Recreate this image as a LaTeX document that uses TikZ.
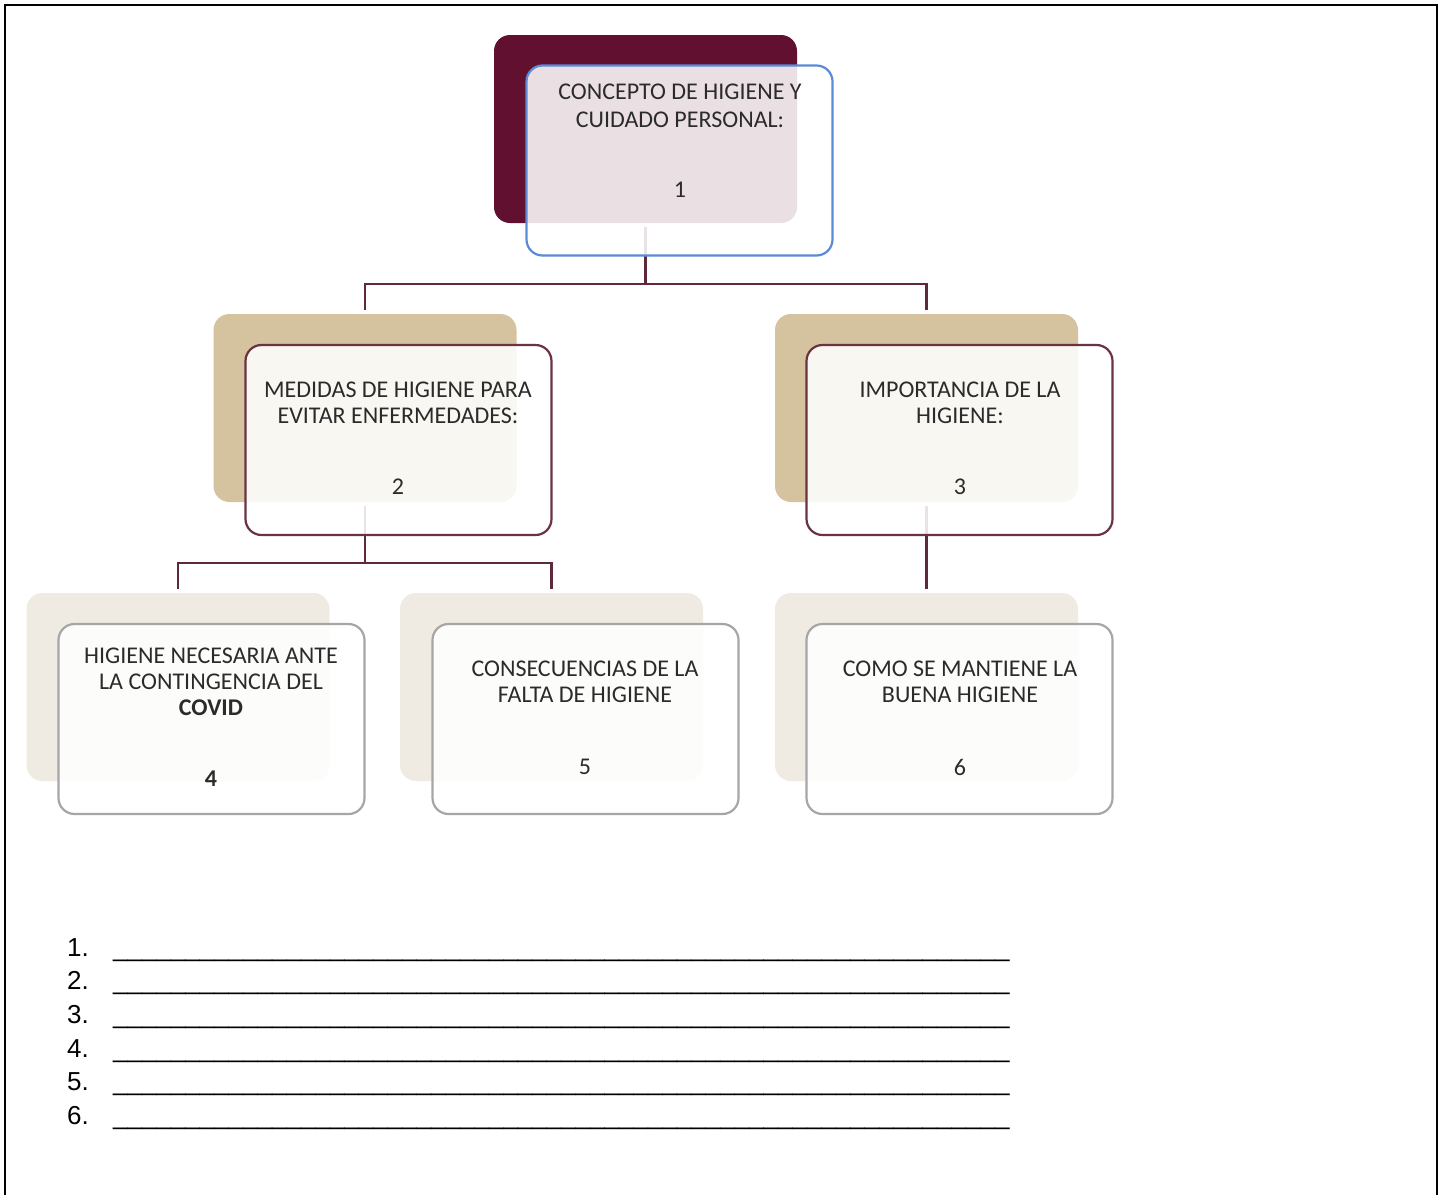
\documentclass[tikz,border=0pt]{standalone}
\usepackage{fontspec}
\setmainfont{Carlito}
\newfontfamily\arialf{Liberation Sans}
\usetikzlibrary{calc}
\definecolor{maroonback}{HTML}{611030}
\definecolor{tanback}{HTML}{D5C29E}
\definecolor{beigeback}{HTML}{EFEBE2}
\definecolor{blueedge}{HTML}{5B8AD6}
\definecolor{maroonedge}{HTML}{6B3342}
\definecolor{grayedge}{HTML}{A6A6A6}
\definecolor{connc}{HTML}{5E2A3A}
\definecolor{txtc}{HTML}{2B2B2B}
\newcommand\usline{\_\_\_\_\_\_\_\_\_\_\_\_\_\_\_\_\_\_\_\_\_\_\_\_\_\_\_\_\_\_\_\_\_\_\_\_\_\_\_\_\_\_\_\_\_\_\_\_\_\_\_\_\_\_\_\_\_\_\_\_\_\_}
\begin{document}
\begin{tikzpicture}[x=1pt,y=-1pt,
  backbox/.style={rounded corners=16pt, minimum width=303pt, minimum height=188pt, inner sep=0pt, draw=none},
  frontbox/.style={rounded corners=16pt, minimum width=306pt, minimum height=190pt, inner sep=0pt, fill=white, fill opacity=0.87, line width=2.2pt},
  conn/.style={draw=connc, line width=2.4pt, shorten <=4pt, shorten >=4pt},
  boxtxt/.style={align=center, text=txtc, font=\fontsize{24}{26}\selectfont, inner sep=0pt},
  numtxt/.style={text=txtc, font=\fontsize{24}{26}\selectfont, inner sep=0pt},
  listtxt/.style={anchor=base west, text=black, font=\arialf\fontsize{26}{30}\selectfont, inner sep=0pt}]
\useasboundingbox (0,0) rectangle (1440,1194);
% frame
\draw[line width=2.6pt] (5,1200) -- (5,5) -- (1437,5) -- (1437,1200);

% back boxes
\node[backbox, fill=maroonback] (b1) at (645.5,129) {};
\node[backbox, fill=tanback] (b2) at (365,408) {};
\node[backbox, fill=tanback] (b3) at (926.5,408) {};
\node[backbox, fill=beigeback] (b4) at (178,687) {};
\node[backbox, fill=beigeback] (b5) at (551.5,687) {};
\node[backbox, fill=beigeback] (b6) at (926.5,687) {};

% connectors
\coordinate (j1) at (0,284);
\coordinate (j2) at (0,563);
\draw[conn] (b1.south) -- (b1.south |- j1) -| (b2.north);
\draw[conn, shorten <=0pt] (b1.south |- j1) -| (b3.north);
\draw[conn] (b2.south) -- (b2.south |- j2) -| (b4.north);
\draw[conn, shorten <=0pt] (b2.south |- j2) -| (b5.north);
\draw[conn] (b3.south) -- (b6.north);

% front boxes
\node[frontbox, draw=blueedge] (f1) at (679.5,160.5) {};
\node[frontbox, draw=maroonedge] (f2) at (398.5,440) {};
\node[frontbox, draw=maroonedge] (f3) at (959.5,440) {};
\node[frontbox, draw=grayedge] (f4) at (211.5,719) {};
\node[frontbox, draw=grayedge] (f5) at (585.5,719) {};
\node[frontbox, draw=grayedge] (f6) at (959.5,719) {};

% texts
\node[boxtxt, font=\fontsize{24}{28}\selectfont] (t1) at (680,106) {CONCEPTO DE HIGIENE Y\\CUIDADO PERSONAL:};
\node[numtxt] (n1) at (680,190) {1};
\node[boxtxt] (t2) at (398,403) {MEDIDAS DE HIGIENE PARA\\EVITAR ENFERMEDADES:};
\node[numtxt] (n2) at (398,487) {2};
\node[boxtxt] (t3) at (960,403) {IMPORTANCIA DE LA\\HIGIENE:};
\node[numtxt] (n3) at (960,487) {3};
\node[boxtxt] (t4) at (211,681.5) {HIGIENE NECESARIA ANTE\\LA CONTINGENCIA DEL\\\textbf{COVID}};
\node[numtxt, font=\bfseries\fontsize{24}{26}\selectfont] (n4) at (211,779) {4};
\node[boxtxt] (t5) at (585,682) {CONSECUENCIAS DE LA\\FALTA DE HIGIENE};
\node[numtxt] (n5) at (585,767) {5};
\node[boxtxt] (t6) at (960,682) {COMO SE MANTIENE LA\\BUENA HIGIENE};
\node[numtxt] (n6) at (960,767) {6};

% answer list
\foreach \i in {1,...,6} {
  \node[listtxt] (l\i) at (67,{956+33.7*(\i-1)}) {\i.};
  \node[listtxt] (u\i) at (113,{956+33.7*(\i-1)}) {\usline};
}
\end{tikzpicture}
\end{document}
